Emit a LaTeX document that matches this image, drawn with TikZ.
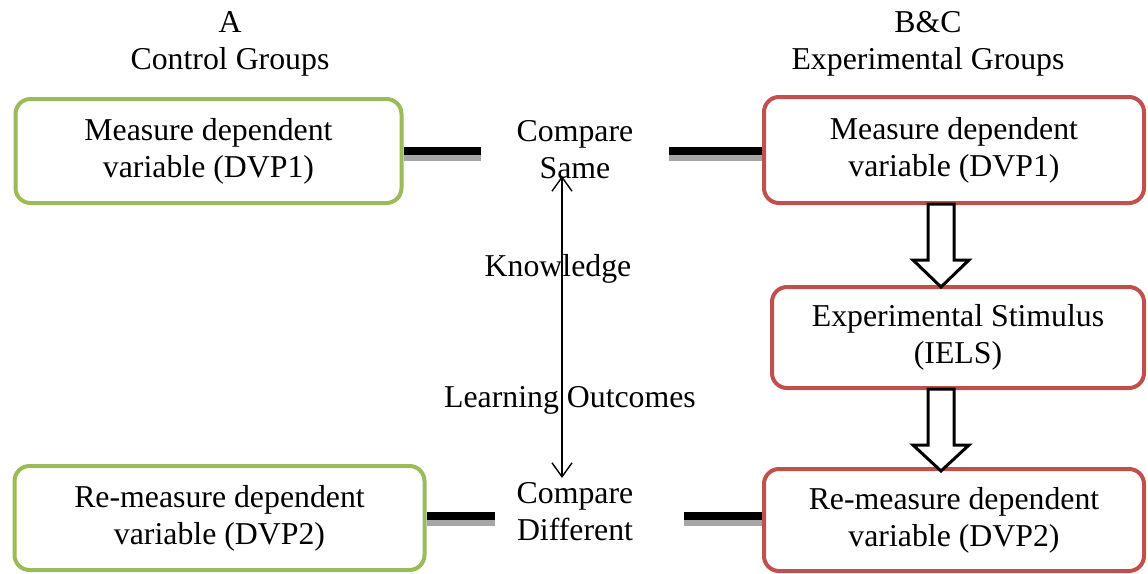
\documentclass[tikz,border=0pt]{standalone}
\usepackage{fontspec}
\setmainfont{Liberation Serif}
\usetikzlibrary{arrows.meta}
\definecolor{grn}{HTML}{9BBB59}
\definecolor{rd}{HTML}{C0504D}
\definecolor{shd}{HTML}{A6A6A6}
\tikzset{
  box/.style={draw, rounded corners=7.5pt, line width=2pt, align=center, inner sep=0pt, fill=white},
  gbox/.style={box, draw=grn},
  rbox/.style={box, draw=rd},
  lbl/.style={align=center, inner sep=0pt},
  barline/.style={line width=4pt, black},
  barshadow/.style={line width=4pt, shd, transform canvas={yshift=-3pt}},
  blockarrow/.style={draw=black, line width=1.5pt, fill=white, line join=miter},
  dbl/.style={line width=0.7pt, {Straight Barb[length=7pt,width=10pt]}-{Straight Barb[length=7pt,width=10pt]}}
}
\begin{document}
\begin{tikzpicture}[x=0.5pt,y=-0.5pt, font=\fontsize{15.9}{18.5}\selectfont]
\useasboundingbox (0,0) rectangle (1148,574);

% headers
\node[lbl] (ha) at (230,44) {A\\Control Groups};
\node[lbl] (hb) at (928,44) {B\&C\\Experimental Groups};

% boxes
\node[gbox, minimum width=193pt, minimum height=52pt] (g1) at (208.5,151) {Measure dependent\\variable (DVP1)};
\node[rbox, minimum width=190pt, minimum height=53pt] (r1) at (954,150) {Measure dependent\\variable (DVP1)};
\node[rbox, minimum width=186pt, minimum height=50.5pt] (r2) at (958,337.5) {Experimental Stimulus\\(IELS)};
\node[rbox, minimum width=190pt, minimum height=51pt] (r3) at (954,520) {Re-measure dependent\\variable (DVP2)};
\node[gbox, minimum width=205pt, minimum height=52pt] (g2) at (219.5,518) {Re-measure dependent\\variable (DVP2)};

% compare labels
\node[lbl] (cs) at (575,150) {Compare\\Same};
\node[lbl] (cd) at (575,512) {Compare\\Different};

% bars
\coordinate (b1) at (481,151);
\coordinate (b2) at (669,151);
\coordinate (b3) at (495,516);
\coordinate (b4) at (684,516);
\draw[barshadow] (g1.east |- b1) -- (b1);
\draw[barline] (g1.east |- b1) -- (b1);
\draw[barshadow] (b2) -- (b2 -| r1.west);
\draw[barline] (b2) -- (b2 -| r1.west);
\draw[barshadow] (g2.east |- b3) -- (b3);
\draw[barline] (g2.east |- b3) -- (b3);
\draw[barshadow] (b4) -- (b4 -| r3.west);
\draw[barline] (b4) -- (b4 -| r3.west);

% double arrow
\coordinate (ka) at (562,176);
\coordinate (kb) at (562,478);
\draw[dbl] (ka) -- (kb);

\node[lbl] (kn) at (558,269) {Knowledge};
\node[lbl] (lo) at (570,400) {Learning Outcomes};

% block arrows
\draw[blockarrow] (928,204) -- (954,204) -- (954,260) -- (969,260) -- (941,287) -- (913,260) -- (928,260) -- cycle;
\draw[blockarrow] (928,389) -- (954,389) -- (954,445) -- (969,445) -- (941,471) -- (913,445) -- (928,445) -- cycle;
\end{tikzpicture}
\end{document}
